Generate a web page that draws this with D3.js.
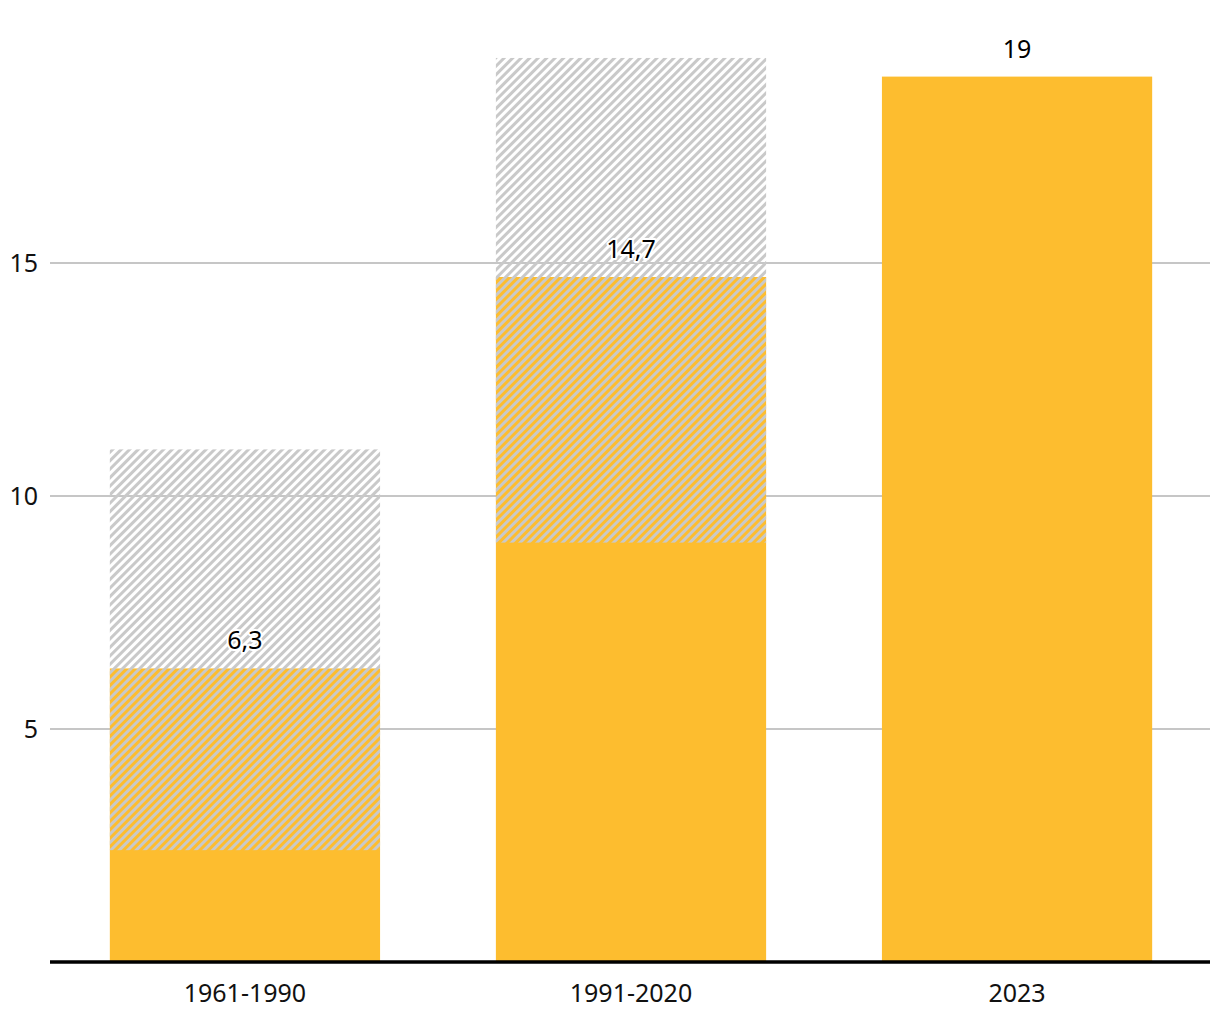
<!DOCTYPE html>
<html><head><meta charset="utf-8">
<script src="https://cdn.jsdelivr.net/npm/d3@7"></script>
<style>
body{margin:0;background:#fff;}
svg text{font-family:"Noto Sans",sans-serif;}
</style></head>
<body><svg id="c" width="1220" height="1020"></svg>
<script>
const categories = ["1961-1990", "1991-2020", "2023"];
const minValues  = [2.4, 9.0, 19];
const meanValues = [6.3, 14.7, 19];
const maxValues  = [11.0, 19.4, 19];
const valueLabels = ["6,3", "14,7", "19"];
const yTicks = [5, 10, 15];

(function(){
const svg = d3.select("#c");
const mLeft = 50, mRight = 1210, mBottom = 962;
const x = d3.scaleBand().domain(categories).range([mLeft, 1212]).paddingInner(0.3).paddingOuter(0.155);
const y = d3.scaleLinear().domain([0, 5]).range([mBottom, 729]);

const defs = svg.append("defs");
const pat = defs.append("pattern").attr("id","hatch").attr("patternUnits","userSpaceOnUse")
  .attr("width",6).attr("height",6).attr("patternTransform","rotate(45)");
pat.append("rect").attr("x",0).attr("y",0).attr("width",3).attr("height",6).attr("fill","#c9c9c9");

svg.append("g").selectAll("line").data(yTicks).join("line")
  .attr("x1",mLeft).attr("x2",mRight).attr("y1",d=>y(d)).attr("y2",d=>y(d))
  .attr("stroke","#b3b3b3").attr("stroke-width",1.5);
svg.append("g").selectAll("text").data(yTicks).join("text")
  .attr("x",38).attr("y",d=>y(d)).attr("dy","0.36em").attr("text-anchor","end")
  .attr("font-size",25).attr("fill","#111").text(d=>d);

const data = categories.map((c,i)=>({c, min:minValues[i], mean:meanValues[i], max:maxValues[i], label:valueLabels[i]}));

svg.append("g").selectAll("rect").data(data).join("rect")
  .attr("x",d=>x(d.c)).attr("width",x.bandwidth())
  .attr("y",d=>y(d.mean)).attr("height",d=>y(0)-y(d.mean))
  .attr("fill","#fdbd2f");
svg.append("g").selectAll("rect").data(data.filter(d=>d.max>d.min)).join("rect")
  .attr("x",d=>x(d.c)).attr("width",x.bandwidth())
  .attr("y",d=>y(d.max)).attr("height",d=>y(d.min)-y(d.max))
  .attr("fill","url(#hatch)");

svg.append("g").selectAll("text").data(data).join("text")
  .attr("x",d=>x(d.c)+x.bandwidth()/2).attr("y",d=>y(d.mean)-19)
  .attr("text-anchor","middle").attr("font-size",25).attr("fill","#000")
  .attr("stroke","#fff").attr("stroke-width",4).attr("paint-order","stroke")
  .attr("stroke-linejoin","round")
  .text(d=>d.label);

svg.append("line").attr("x1",mLeft).attr("x2",mRight).attr("y1",y(0)).attr("y2",y(0))
  .attr("stroke","#000").attr("stroke-width",3.5);

svg.append("g").selectAll("text").data(categories).join("text")
  .attr("x",d=>x(d)+x.bandwidth()/2).attr("y",1002)
  .attr("text-anchor","middle").attr("font-size",25).attr("fill","#111").text(d=>d);
})();
</script></body></html>
